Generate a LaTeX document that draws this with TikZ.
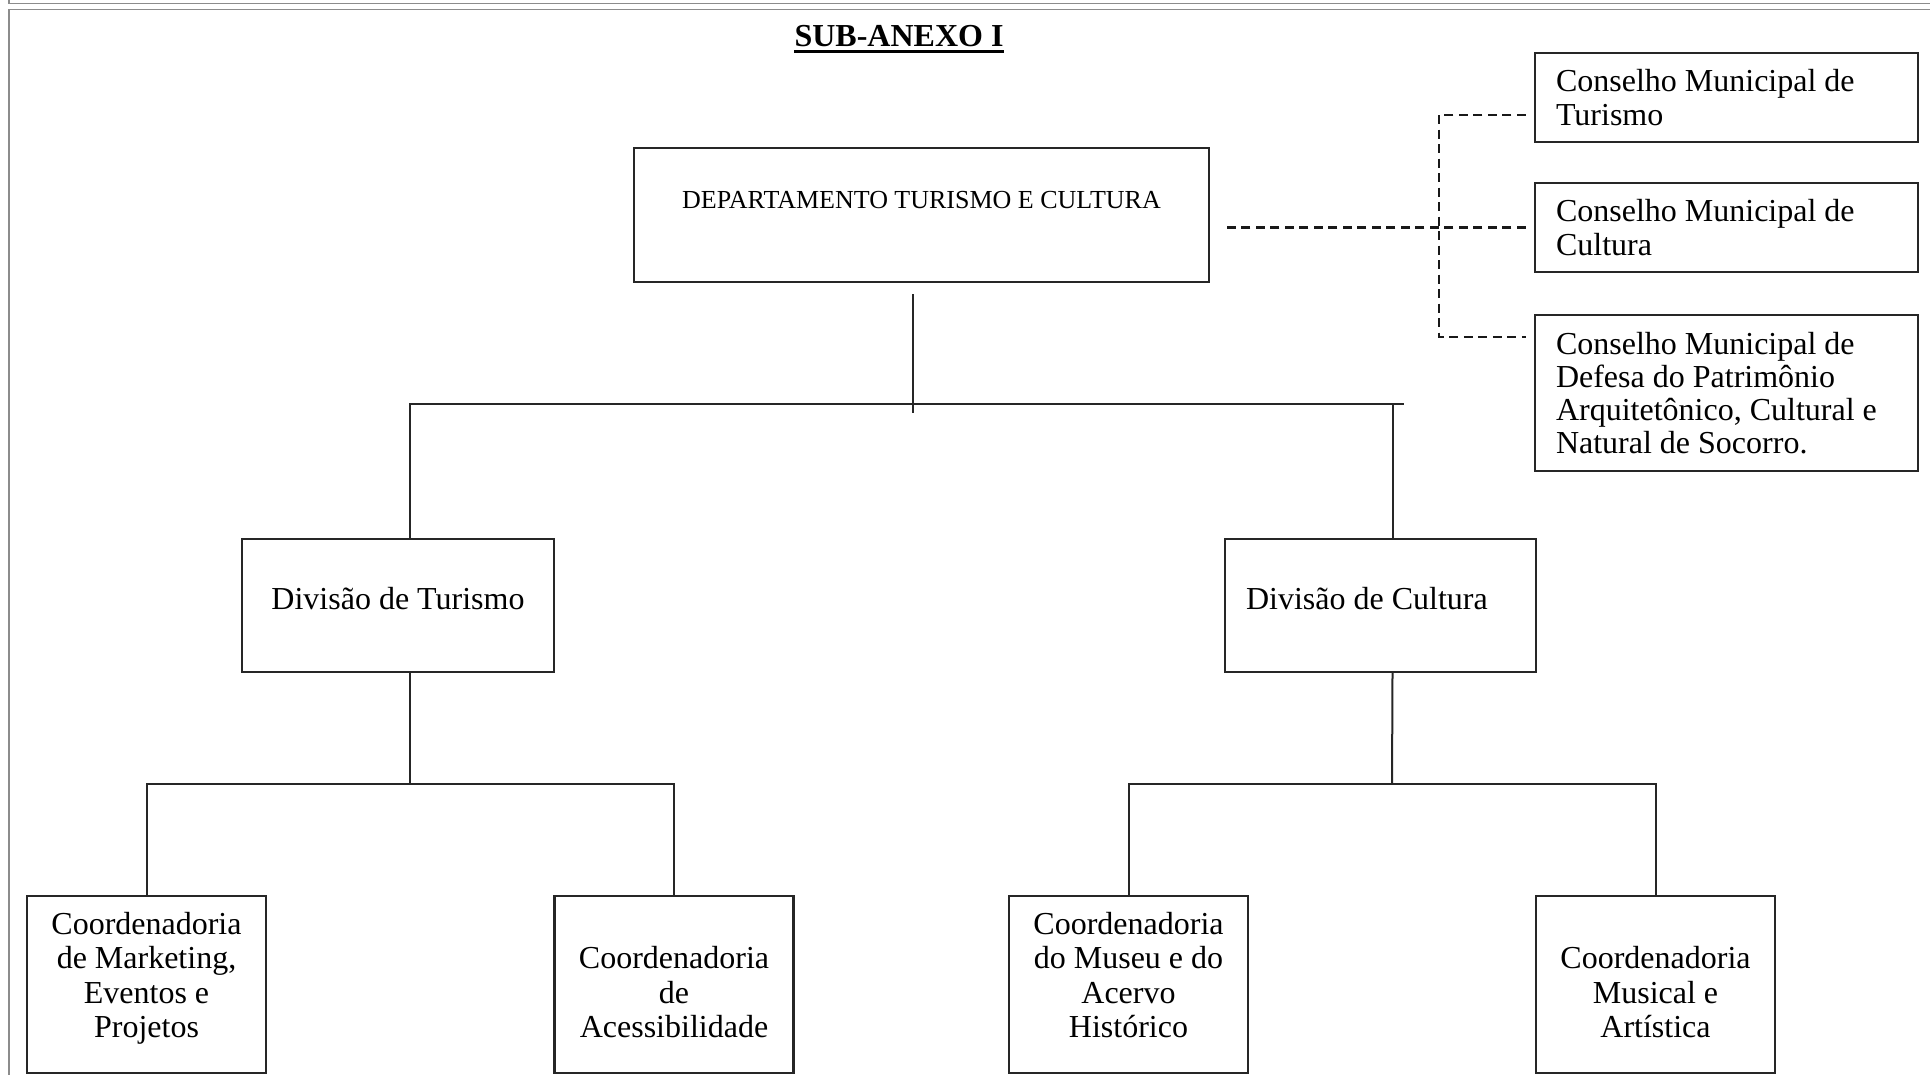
\documentclass[tikz,border=0pt]{standalone}
\usepackage{fontspec}
\setmainfont{Liberation Serif}
\usetikzlibrary{positioning}
\tikzset{
  org box/.style={
    draw=black!85,
    line width=1.2pt,
    inner sep=0pt,
    minimum width={#1},
  },
  org box/.default=150pt,
  left box/.style={
    org box={#1},
    inner xsep=10.5pt,
    text width={#1-21pt},
    align=flush left,
  },
  council box/.style={
    left box=191.5pt,
    minimum height={#1},
    font=\fontsize{16}{16.6}\selectfont,
  },
  division box/.style={
    minimum height=66.5pt,
    font=\fontsize{16}{18}\selectfont,
    text height=11pt,
    text depth=7.5pt,
  },
  coord box/.style={
    org box=119.5pt,
    minimum height=88.5pt,
    align=center,
    font=\fontsize{16}{17.2}\selectfont,
    text height=60pt,
    text depth=7pt,
  },
  link/.style={
    draw=black!85,
    line width=1pt,
  },
  dashed link/.style={
    draw=black!90,
    line width=1.1pt,
    dash pattern=on 4.5pt off 2.75pt,
  },
  frame/.style={
    draw=black!45,
    line width=0.8pt,
  },
}

\begin{document}
\begin{tikzpicture}[x=0.5pt, y=-0.5pt]
  \useasboundingbox (0,0) rectangle (1930,1075);
  % moldura da pagina
  \draw[frame] (9,0) -- (9,3.5) -- (1930,3.5);
  \draw[frame] (1930,9.5) -- (9,9.5) -- (9,1075);

  \node [font=\fontsize{16}{18}\selectfont\bfseries, anchor=base, inner xsep=0pt] (titulo) at (899,47) {SUB-ANEXO I};
  \draw[line width=1.2pt] ([yshift=-2.2pt]titulo.base west) -- ([yshift=-2.2pt]titulo.base east);

  \node [org box=287.5pt, minimum height=67pt, font=\fontsize{13}{15}\selectfont, text height=9pt, text depth=15.4pt] (dept) at (921.5,215) {DEPARTAMENTO TURISMO E CULTURA};

  \node [council box=44.5pt] (cmT) at (1726.5,97.5) {Conselho Municipal de\\Turismo};
  \node [council box=44.5pt] (cmC) at (1726.5,227.5) {Conselho Municipal de\\Cultura};
  \node [council box=78pt] (cmD) at (1726.5,393) {Conselho Municipal de\\Defesa do Patrimônio\\Arquitetônico, Cultural e\\Natural de Socorro.};

  \node [org box=155.75pt, division box] (divT) at (398,605.5) {Divisão de Turismo};
  \node [left box=155.5pt, inner ysep=0pt, division box] (divC) at (1380.5,605.5) {Divisão de Cultura};

  \node [coord box] (mkt) at (146.5,984.5) {Coordenadoria\\de Marketing,\\Eventos e\\Projetos};
  \node [coord box] (acc) at (674,984.5) {Coordenadoria\\de\\Acessibilidade};
  \node [coord box] (mus) at (1128.5,984.5) {Coordenadoria\\do Museu e do\\Acervo\\Histórico};
  \node [coord box] (art) at (1655.5,984.5) {Coordenadoria\\Musical e\\Artística};

  \coordinate (bus top) at (913,404);
  \coordinate (bus left) at (410,784);
  \coordinate (bus right) at (1392,784);
  \coordinate (brace) at (1439,226);

  \draw[link] ([xshift=-4.25pt,yshift=-5.5pt]dept.south) -- ([yshift=-4.5pt]bus top);
  \draw[link] ([xshift=6pt]divT.north) |- (bus top) -- (divC.north |- bus top) -- ++(11.5pt,0);
  \draw[link] ([xshift=6pt]divC.north) |- (bus top);

  \draw[link] ([xshift=6pt]divT.south) -- (bus left);
  \draw[link] (mkt.north) |- (bus left) -| (acc.north);
  \draw[link] ([xshift=6pt]divC.south) -- (bus right);
  \draw[link] (mus.north) |- (bus right) -| (art.north);

  % conselhos
  \draw[dashed link, shorten >=7pt] ([xshift=-4pt]cmC.west) -- (dept.east |- cmC.west);
  \draw[dashed link] ([xshift=-4pt,yshift=-8.75pt]cmT.west) -| (brace) |- ([xshift=-4pt,yshift=-11.5pt]cmD.north west);
\end{tikzpicture}
\end{document}
